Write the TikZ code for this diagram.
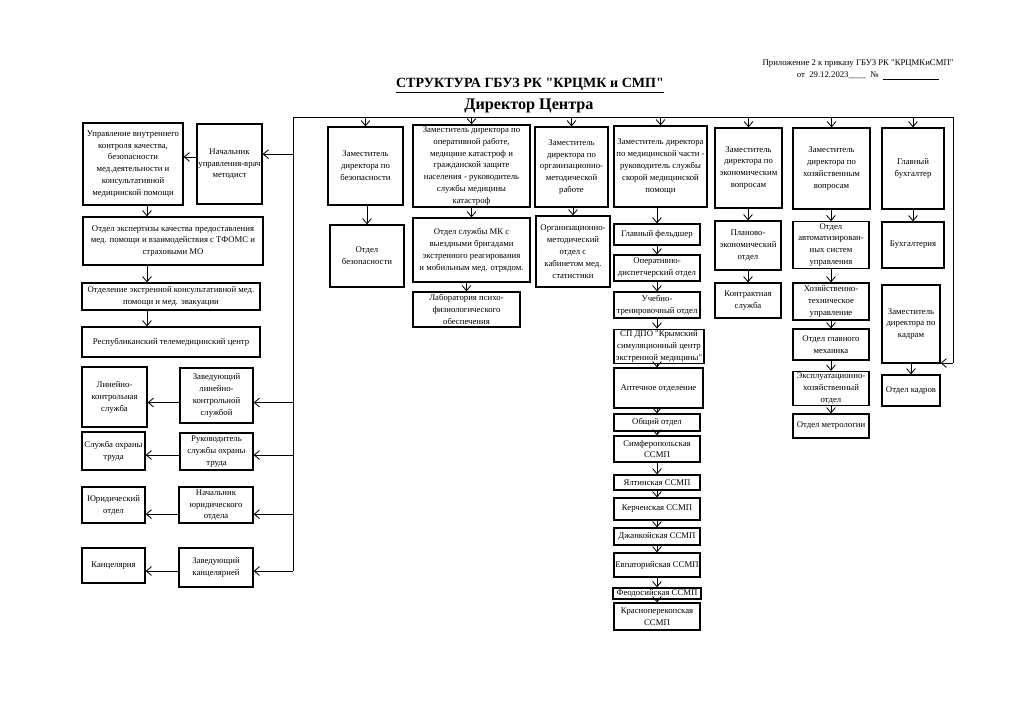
\documentclass[tikz,border=0pt]{standalone}
\usepackage{fontspec}
\setmainfont{Liberation Serif}[Ligatures=TeXOff]
\usetikzlibrary{arrows.meta, positioning}

\begin{document}
\begin{tikzpicture}[
  x=0.025cm, y=-0.025cm,
  every node/.style={font=\fontsize{6.2}{8.5}\selectfont},
  box/.style={rectangle, draw, line width=0.9pt, inner sep=1pt, align=center},
  sz/.style 2 args={minimum width=#1*0.025cm, minimum height=#2*0.025cm},
  arr/.style={-{Straight Barb[length=1.3mm, width=2.2mm]}, line width=0.6pt},
  ln/.style={line width=0.7pt},
]
\useasboundingbox[fill=white] (0,0) rectangle (1024,725);

% Header
\node (pril) at (858,64) {Приложение 2 к приказу ГБУЗ РК "КРЦМКиСМП"};
\node (prdate) at (868,76) {от\ \ 29.12.2023\_\_\_\_\ \ №\ \ \underline{\hspace{1.4cm}}};
\node[font=\fontsize{10}{12}\selectfont\bfseries] (title) at (530,86) {\underline{СТРУКТУРА ГБУЗ РК "КРЦМК и СМП"}};
\node[font=\fontsize{11.5}{14}\selectfont\bfseries] (dir) at (529,106) {Директор Центра};

% Left column
\node[box, sz={100}{82}] (uvk) at (133,164) {Управление внутреннего\\контроля качества,\\безопасности\\мед.деятельности и\\консультативной\\медицинской помощи};
\node[box, sz={65}{80}] (nachuvk) at (229.5,164) {Начальник\\управления-врач\\методист};
\node[box, sz={180}{48}] (ekspert) at (173,241) {Отдел экспертизы качества предоставления\\мед. помощи и взаимодействия с ТФОМС и\\страховыми МО};
\node[box, sz={178}{27}] (ekstr) at (171,296.5) {Отделение экстренной консультативной мед.\\помощи и мед. эвакуации};
\node[box, sz={178}{30}] (telemed) at (171,342) {Республиканский телемедицинский центр};
\node[box, sz={65}{60}] (lks) at (114.5,397) {Линейно-\\контрольная\\служба};
\node[box, sz={73}{55}] (zavlks) at (216.5,395.5) {Заведующий\\линейно-\\контрольной\\службой};
\node[box, sz={63}{38}] (ot) at (113.5,451) {Служба охраны\\труда};
\node[box, sz={73}{37}] (rukot) at (216.5,451.5) {Руководитель\\службы охраны\\труда};
\node[box, sz={63}{36}] (jur) at (113.5,505) {Юридический\\отдел};
\node[box, sz={74}{36}] (nachjur) at (216,505) {Начальник\\юридического\\отдела};
\node[box, sz={63}{35}] (kanc) at (113.5,565.5) {Канцелярия};
\node[box, sz={74}{39}] (zavkanc) at (216,567.5) {Заведующий\\канцелярией};

% Deputies
\node[box, sz={75}{78}] (zambez) at (365.5,166) {Заместитель\\директора по\\безопасности};
\node[box, sz={74}{62}] (otdbez) at (367,256) {Отдел\\безопасности};
\node[box, sz={117}{82}] (zamop) at (471.5,166) {Заместитель директора по\\оперативной работе,\\медицине катастроф и\\гражданской защите\\населения - руководитель\\службы медицины\\катастроф};
\node[box, sz={117}{64}] (otdmk) at (471.5,250) {Отдел службы МК с\\выездными бригадами\\экстренного реагирования\\и мобильным мед. отрядом.};
\node[box, sz={107}{35}] (lab) at (466.5,309.5) {Лаборатория психо-\\физиологического\\обеспечения};
\node[box, sz={73}{80}] (zamorg) at (571.5,167) {Заместитель\\директора по\\организационно-\\методической\\работе};
\node[box, sz={74}{71}] (orgotd) at (573,251.5) {Организационно-\\методический\\отдел с\\кабинетом мед.\\статистики};

% Medical chain
\node[box, sz={93}{81}] (zammed) at (660.5,166.5) {Заместитель директора\\по медицинской части -\\руководитель службы\\скорой медицинской\\помощи};
\node[box, sz={86}{21}] (glfeld) at (657,234.5) {Главный фельдшер};
\node[box, sz={86}{26}] (opdisp) at (657,268) {Оперативно-\\диспетчерский отдел};
\node[box, sz={86}{26}] (uchtren) at (657,305) {Учебно-\\тренировочный отдел};
\node[box, sz={90}{34}] (simcentr) at (659,346.5) {СП ДПО "Крымский\\симуляционный центр\\экстренной медицины"};
\node[box, sz={89}{40}] (apteka) at (658.5,388) {Аптечное отделение};
\node[box, sz={86}{17}] (obshch) at (657,422.5) {Общий отдел};
\node[box, sz={86}{26}] (simf) at (657,449) {Симферопольская\\ССМП};
\node[box, sz={86}{15}] (yalta) at (657,482.5) {Ялтинская ССМП};
\node[box, sz={86}{22}] (kerch) at (657,509) {Керченская ССМП};
\node[box, sz={86}{17}] (dzhank) at (657,536.5) {Джанкойская ССМП};
\node[box, sz={86}{24}] (evp) at (657,565) {Евпаторийская ССМП};
\node[box, sz={88}{11}, inner sep=0.3pt] (feod) at (657,593.5) {Феодосийская ССМП};
\node[box, sz={86}{27}] (krasn) at (657,616.5) {Красноперекопская\\ССМП};

% Right columns
\node[box, sz={67}{80}] (zamek) at (748.5,168) {Заместитель\\директора по\\экономическим\\вопросам};
\node[box, sz={66}{49}] (planek) at (748,245.5) {Планово-\\экономический\\отдел};
\node[box, sz={66}{35}] (kontr) at (748,300.5) {Контрактная\\служба};
\node[box, sz={77}{81}] (zamhoz) at (831.5,168.5) {Заместитель\\директора по\\хозяйственным\\вопросам};
\node[box, sz={76}{46}] (asu) at (831,245) {Отдел\\автоматизирован-\\ных систем\\управления};
\node[box, sz={76}{37}] (hoztech) at (831,301.5) {Хозяйственно-\\техническое\\управление};
\node[box, sz={76}{31}] (mech) at (831,344.5) {Отдел главного\\механика};
\node[box, sz={76}{33}] (expl) at (831,388.5) {Эксплуатационно-\\хозяйственный\\отдел};
\node[box, sz={76}{24}] (metr) at (831,426) {Отдел метрологии};
\node[box, sz={62}{81}] (glbuh) at (913,168.5) {Главный\\бухгалтер};
\node[box, sz={62}{46}] (buh) at (913,245) {Бухгалтерия};
\node[box, sz={58}{78}] (zamkadr) at (911,324) {Заместитель\\директора по\\кадрам};
\node[box, sz={58}{31}] (kadry) at (911,390.5) {Отдел кадров};

% Director bus
\coordinate (barL) at (293,117);
\coordinate (barR) at (953,117);
\coordinate (lbot) at (293,571);
\coordinate (rbot) at (953,363);
\coordinate (lsp) at (147,0);
\draw[ln] (lbot) -- (barL) -- (barR) -- (rbot);
\draw[arr] (rbot) -- (rbot -| zamkadr.east);

\foreach \n in {zambez, zamop, zamorg, zammed, zamek, zamhoz, glbuh}
  \draw[arr] (\n.north |- barL) -- (\n.north);

% Left side
\coordinate (nachuvk-e) at ([yshift=7pt]nachuvk.east);
\coordinate (nachuvk-w) at ([yshift=5pt]nachuvk.west);
\draw[arr] (barL |- nachuvk-e) -- (nachuvk-e);
\draw[arr] (nachuvk-w) -- (nachuvk-w -| uvk.east);
\draw[arr] (uvk.south -| lsp) -- (ekspert.north -| lsp);
\draw[arr] (ekspert.south -| lsp) -- (ekstr.north -| lsp);
\draw[arr] (ekstr.south -| lsp) -- (telemed.north -| lsp);
\foreach \a/\b/\s in {zavlks/lks/-5pt, rukot/ot/-2.5pt, nachjur/jur/-6.5pt, zavkanc/kanc/-2.5pt} {
  \coordinate (\a-e) at ([yshift=\s]\a.east);
  \coordinate (\a-w) at ([yshift=\s]\a.west);
  \draw[arr] (barL |- \a-e) -- (\a-e);
  \draw[arr] (\a-w) -- (\a-w -| \b.east);
}

% Columns
\draw[arr] (zambez.south -| otdbez.north) -- (otdbez.north);
\draw[arr] (zamop) -- (otdmk);
\draw[arr] (otdmk.south -| lab.north) -- (lab.north);
\draw[arr] (zamorg.south -| orgotd.north) -- (orgotd.north);
\draw[arr] (zammed.south -| glfeld.north) -- (glfeld.north);
\foreach \a/\b in {glfeld/opdisp, opdisp/uchtren, uchtren/simcentr, simcentr/apteka, apteka/obshch, obshch/simf, simf/yalta, yalta/kerch, kerch/dzhank, dzhank/evp, evp/feod, feod/krasn}
  \draw[arr] (\a.south -| obshch.north) -- (\b.north -| obshch.north);
\draw[arr] (zamek.south -| planek.north) -- (planek.north);
\draw[arr] (planek) -- (kontr);
\draw[arr] (zamhoz.south -| asu.north) -- (asu.north);
\foreach \a/\b in {asu/hoztech, hoztech/mech, mech/expl, expl/metr}
  \draw[arr] (\a) -- (\b);
\draw[arr] (glbuh) -- (buh);
\draw[arr] (zamkadr) -- (kadry);

\end{tikzpicture}
\end{document}
